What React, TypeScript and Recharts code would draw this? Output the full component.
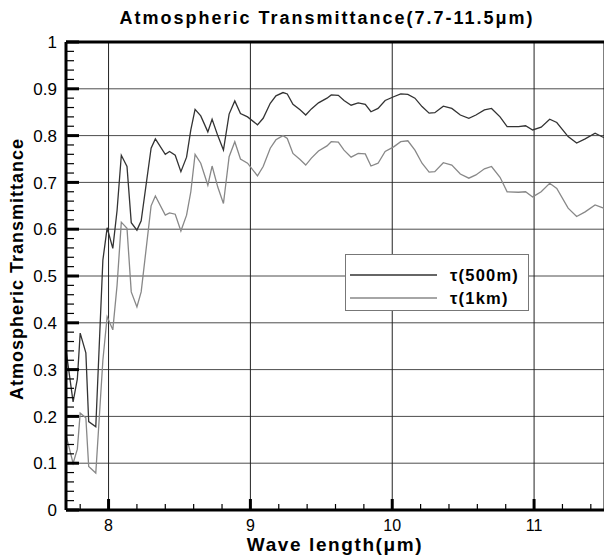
import React from 'react';
import { LineChart, Line, XAxis, YAxis, ReferenceLine } from 'recharts';

const wavelength = [7.70, 7.75, 7.78, 7.80, 7.84, 7.86, 7.91, 7.96, 7.99, 8.03, 8.06, 8.09, 8.13, 8.16, 8.20, 8.23, 8.30, 8.33, 8.40, 8.43, 8.47, 8.51, 8.55, 8.58, 8.61, 8.65, 8.70, 8.73, 8.77, 8.81, 8.85, 8.89, 8.93, 8.98, 9.05, 9.09, 9.14, 9.18, 9.23, 9.26, 9.30, 9.35, 9.39, 9.43, 9.48, 9.54, 9.57, 9.62, 9.66, 9.71, 9.76, 9.81, 9.85, 9.90, 9.95, 10.01, 10.06, 10.11, 10.16, 10.21, 10.26, 10.30, 10.36, 10.42, 10.48, 10.54, 10.59, 10.65, 10.70, 10.76, 10.81, 10.89, 10.94, 10.99, 11.05, 11.11, 11.16, 11.24, 11.30, 11.36, 11.43, 11.49, 11.50];

const tau500m = [0.342, 0.231, 0.28, 0.378, 0.336, 0.189, 0.178, 0.534, 0.603, 0.559, 0.64, 0.758, 0.734, 0.614, 0.598, 0.618, 0.773, 0.793, 0.76, 0.766, 0.758, 0.723, 0.754, 0.812, 0.856, 0.842, 0.808, 0.835, 0.80, 0.769, 0.846, 0.874, 0.847, 0.84, 0.823, 0.837, 0.869, 0.885, 0.892, 0.889, 0.867, 0.855, 0.844, 0.857, 0.87, 0.88, 0.887, 0.886, 0.875, 0.865, 0.87, 0.867, 0.851, 0.858, 0.875, 0.883, 0.889, 0.888, 0.88, 0.862, 0.848, 0.849, 0.863, 0.858, 0.844, 0.837, 0.844, 0.855, 0.858, 0.84, 0.819, 0.819, 0.821, 0.812, 0.818, 0.835, 0.828, 0.798, 0.784, 0.793, 0.805, 0.796, 0.795];

const tau1km = [0.16, 0.10, 0.13, 0.207, 0.197, 0.093, 0.079, 0.32, 0.413, 0.385, 0.48, 0.615, 0.602, 0.466, 0.434, 0.466, 0.65, 0.671, 0.63, 0.635, 0.632, 0.596, 0.63, 0.68, 0.76, 0.741, 0.694, 0.735, 0.69, 0.655, 0.755, 0.787, 0.75, 0.741, 0.714, 0.734, 0.773, 0.791, 0.80, 0.794, 0.762, 0.749, 0.737, 0.752, 0.767, 0.778, 0.787, 0.786, 0.769, 0.754, 0.762, 0.761, 0.735, 0.741, 0.766, 0.776, 0.787, 0.789, 0.769, 0.741, 0.722, 0.723, 0.742, 0.737, 0.718, 0.709, 0.716, 0.729, 0.734, 0.711, 0.68, 0.679, 0.68, 0.669, 0.68, 0.698, 0.687, 0.645, 0.627, 0.637, 0.652, 0.645, 0.643];

const yMajorTicks = [0, 0.1, 0.2, 0.3, 0.4, 0.5, 0.6, 0.7, 0.8, 0.9, 1];
const yTicks = [0, 0.02, 0.04, 0.06, 0.08, 0.1, 0.12, 0.14, 0.16, 0.18, 0.2, 0.22, 0.24, 0.26, 0.28, 0.3, 0.32, 0.34, 0.36, 0.38, 0.4, 0.42, 0.44, 0.46, 0.48, 0.5, 0.52, 0.54, 0.56, 0.58, 0.6, 0.62, 0.64, 0.66, 0.68, 0.7, 0.72, 0.74, 0.76, 0.78, 0.8, 0.82, 0.84, 0.86, 0.88, 0.9, 0.92, 0.94, 0.96, 0.98, 1];
const xMajorTicks = [8, 9, 10, 11];
const xTicks = [7.8, 8, 8.2, 8.4, 8.6, 8.8, 9, 9.2, 9.4, 9.6, 9.8, 10, 10.2, 10.4, 10.6, 10.8, 11, 11.2, 11.4];
const yGrid = [0.1, 0.2, 0.3, 0.4, 0.5, 0.6, 0.7, 0.8, 0.9];

const titleText = 'Atmospheric Transmittance(7.7-11.5\u03bcm)';
const xLabelText = 'Wave length(\u03bcm)';
const yLabelText = 'Atmospheric Transmittance';
const seriesNames = ['\u03c4(500m)', '\u03c4(1km)'];

const data = wavelength.map((w, i) => ({ w, a: tau500m[i], b: tau1km[i] }));

const FONT = '"Liberation Sans", Arial, sans-serif';
const DARK = '#333333';
const GREY = '#888888';

const isMajor = (v: number, list: number[]) => list.some((m) => Math.abs(m - v) < 1e-6);

const YTick = (props: any) => {
  const { x, y, payload } = props;
  const v = payload.value as number;
  const major = isMajor(v, yMajorTicks);
  const label = v === 0 ? '0' : v === 1 ? '1' : v.toFixed(1);
  return (
    <g>
      <line x1={x} x2={x + (major ? 13 : 8)} y1={y} y2={y} stroke="#000" strokeWidth={major ? 3 : 1.2} />
      {major && (
        <text x={x - 9} y={y} dy="0.36em" textAnchor="end" fontFamily={FONT} fontSize={17} fill="#000">
          {label}
        </text>
      )}
    </g>
  );
};

const XTick = (props: any) => {
  const { x, y, payload } = props;
  const v = payload.value as number;
  const major = isMajor(v, xMajorTicks);
  return (
    <g>
      <line x1={x} x2={x} y1={y} y2={y - (major ? 11 : 6)} stroke="#000" strokeWidth={major ? 3 : 1.2} />
      {major && (
        <text x={x} y={y + 21} textAnchor="middle" fontFamily={FONT} fontSize={16} fill="#000">
          {String(v)}
        </text>
      )}
    </g>
  );
};

export default function App() {
  return (
    <div style={{ position: 'absolute', left: 0, top: 0, width: 604, height: 555, overflow: 'hidden', background: '#fff', fontFamily: FONT }}>
      <LineChart width={612} height={555} data={data} margin={{ top: 42, right: 7, bottom: 0, left: 0 }}>
        {yGrid.map((g) => (
          <ReferenceLine key={'gy' + g} y={g} stroke="#4d4d4d" strokeWidth={1} />
        ))}
        {xMajorTicks.map((g) => (
          <ReferenceLine key={'gx' + g} x={g} stroke="#222" strokeWidth={1} />
        ))}
        <ReferenceLine y={1} stroke="#000" strokeWidth={3} />
        <ReferenceLine x={11.5} stroke="#000" strokeWidth={3} />
        <XAxis
          dataKey="w"
          type="number"
          domain={[7.7, 11.5]}
          ticks={xTicks}
          interval={0}
          allowDataOverflow
          height={45}
          tickSize={0}
          tickMargin={0}
          tickLine={false}
          axisLine={{ stroke: '#000', strokeWidth: 3 }}
          tick={<XTick />}
        />
        <YAxis
          type="number"
          domain={[0, 1]}
          ticks={yTicks}
          interval={0}
          allowDataOverflow
          width={66}
          tickSize={0}
          tickMargin={0}
          tickLine={false}
          axisLine={{ stroke: '#000', strokeWidth: 3 }}
          tick={<YTick />}
        />
        <Line type="linear" dataKey="b" stroke={GREY} strokeWidth={1.3} dot={false} isAnimationActive={false} />
        <Line type="linear" dataKey="a" stroke={DARK} strokeWidth={1.3} dot={false} isAnimationActive={false} />
      </LineChart>

      <div style={{ position: 'absolute', left: 0, width: 654, top: 7, textAlign: 'center', fontSize: 18, lineHeight: '22px', fontWeight: 'bold', letterSpacing: 2, whiteSpace: 'nowrap', color: '#000' }}>
        {titleText}
      </div>

      <div style={{ position: 'absolute', left: 0, width: 670, top: 535, textAlign: 'center', fontSize: 19, lineHeight: '19px', fontWeight: 'bold', letterSpacing: 1.6, whiteSpace: 'nowrap', color: '#000' }}>
        {xLabelText}
      </div>

      <div style={{ position: 'absolute', left: 17, top: 269, transform: 'translate(-50%, -50%) rotate(-90deg)', fontSize: 18, lineHeight: '20px', fontWeight: 'bold', letterSpacing: 1, whiteSpace: 'nowrap', color: '#000' }}>
        {yLabelText}
      </div>

      <div style={{ position: 'absolute', left: 345, top: 254, width: 184, height: 57, boxSizing: 'border-box', border: '1px solid #777', background: '#fff' }}>
        <svg width={184} height={57} style={{ position: 'absolute', left: -1, top: -1 }}>
          <line x1={5} x2={92} y1={21} y2={21} stroke={DARK} strokeWidth={1.3} />
          <line x1={5} x2={92} y1={44} y2={44} stroke={GREY} strokeWidth={1.3} />
          <text x={105} y={27} fontFamily={FONT} fontSize={16.5} fontWeight="bold" letterSpacing={1.2} fill="#000">{seriesNames[0]}</text>
          <text x={105} y={50} fontFamily={FONT} fontSize={16.5} fontWeight="bold" letterSpacing={1.2} fill="#000">{seriesNames[1]}</text>
        </svg>
      </div>
    </div>
  );
}
